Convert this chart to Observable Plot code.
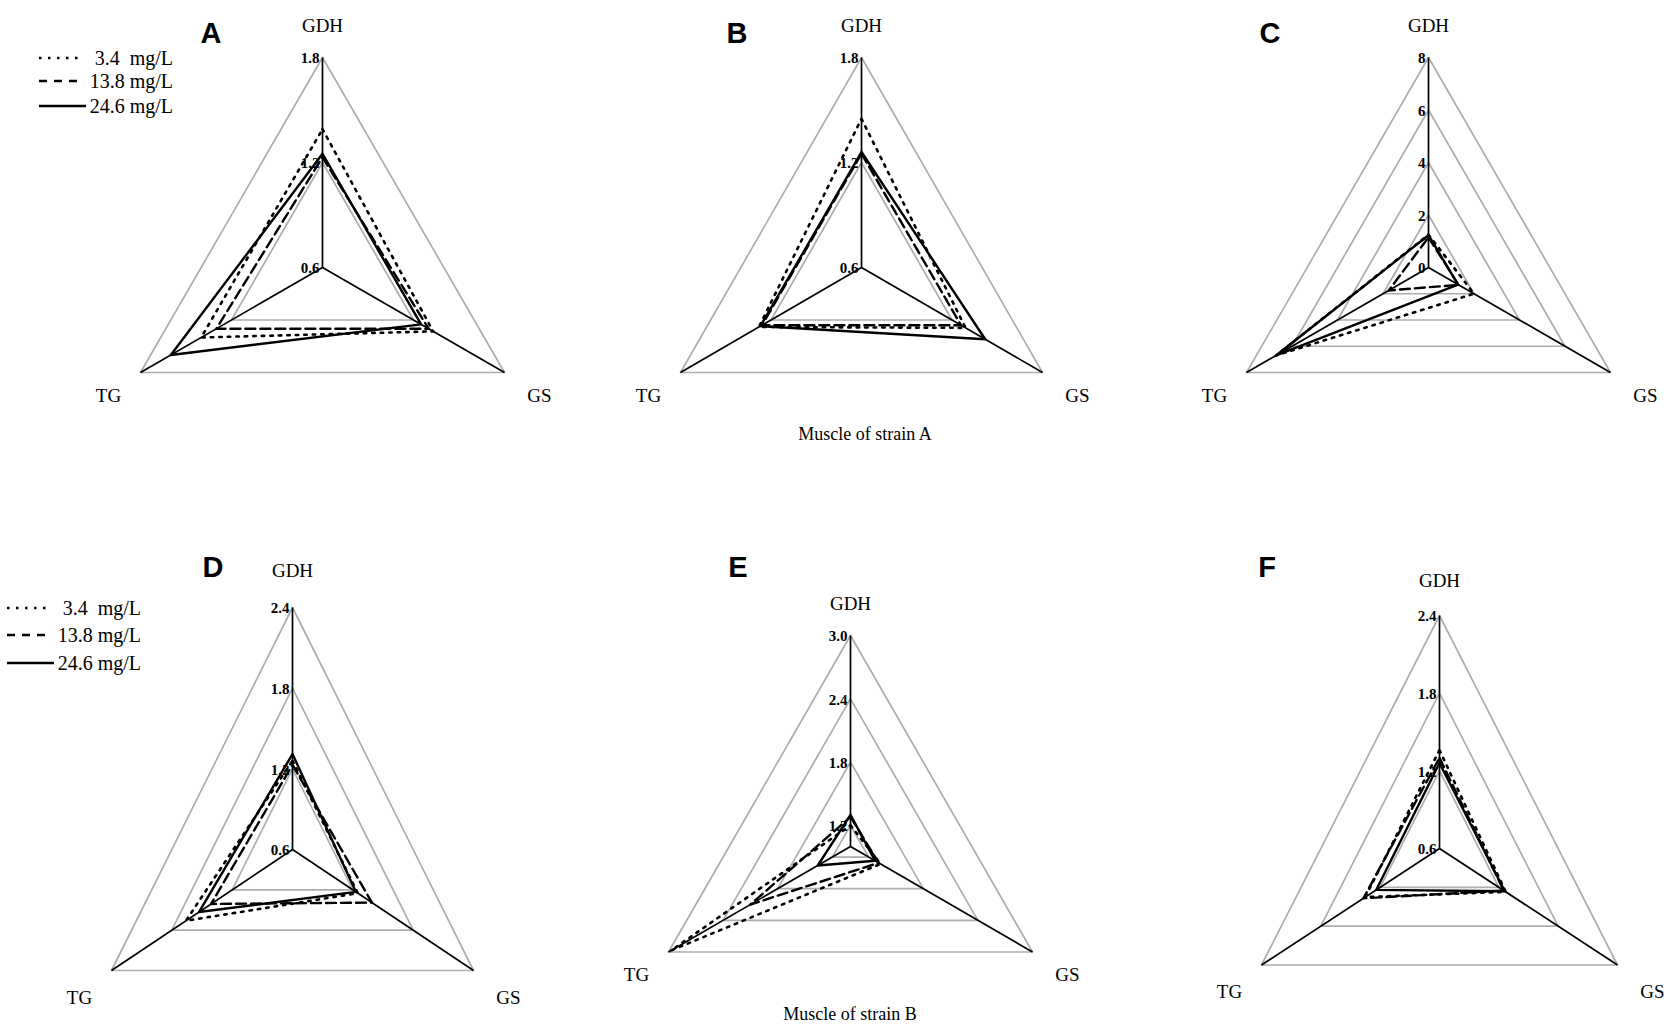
<!DOCTYPE html>
<html><head><meta charset="utf-8">
<script src="https://cdn.jsdelivr.net/npm/d3@7"></script>
<script src="https://cdn.jsdelivr.net/npm/@observablehq/plot@0.6"></script>
<style>
html,body{margin:0;padding:0;background:#fff;}
#page{position:relative;width:1671px;height:1030px;overflow:hidden;background:#fff;}
.panel{position:absolute;}
#overlay{position:absolute;left:0;top:0;pointer-events:none;}
</style></head>
<body><div id="page"></div>
<script>
// ---------------- data ----------------
const axisNames = ["GDH", "GS", "TG"];               // clockwise from top
const seriesNames = ["3.4  mg/L", "13.8 mg/L", "24.6 mg/L"];
const panelLetters = ["A", "B", "C", "D", "E", "F"];
const captions = ["Muscle of strain A", "Muscle of strain B"];
// values per series [GDH, GS, TG]; series order 3.4, 13.8, 24.6 mg/L
const panelA = [[1.39, 1.33, 1.40], [1.23, 1.30, 1.30], [1.25, 1.25, 1.60]];
const panelB = [[1.45, 1.29, 1.28], [1.25, 1.26, 1.26], [1.26, 1.42, 1.27]];
const panelC = [[1.25, 2.00, 6.70], [1.15, 1.32, 1.75], [1.23, 1.30, 6.70]];
const panelD = [[1.26, 1.25, 1.66], [1.23, 1.39, 1.41], [1.31, 1.23, 1.53]];
const panelE = [[1.20, 1.33, 2.97], [1.28, 1.31, 2.10], [1.30, 1.27, 1.36]];
const panelF = [[1.36, 1.27, 1.35], [1.30, 1.25, 1.37], [1.26, 1.26, 1.24]];
const axisMin = [0.6, 0.6, 0, 0.6, 1.0, 0.6];
const axisMax = [1.8, 1.8, 8, 2.4, 3.0, 2.4];
const tickValues = [[0.6, 1.2, 1.8], [0.6, 1.2, 1.8], [0, 2, 4, 6, 8], [0.6, 1.2, 1.8, 2.4], [1.2, 1.8, 2.4, 3.0], [0.6, 1.2, 1.8, 2.4]];
const tickLabels = [["0.6", "1.2", "1.8"], ["0.6", "1.2", "1.8"], ["0", "2", "4", "6", "8"], ["0.6", "1.2", "1.8", "2.4"], ["1.2", "1.8", "2.4", "3.0"], ["0.6", "1.2", "1.8", "2.4"]];
const panels = [panelA, panelB, panelC, panelD, panelE, panelF];

// ---------------- layout / style ----------------
const layout = [
  {cx: 322, cy: 267, hx: 182, ry: 210, left: 0, top: 0, w: 560, h: 460, gap: 32, drop: 23},
  {cx: 861, cy: 267, hx: 181, ry: 210, left: 560, top: 0, w: 550, h: 460, gap: 32, drop: 23},
  {cx: 1428, cy: 267, hx: 182, ry: 210, left: 1110, top: 0, w: 561, h: 460, gap: 32, drop: 23},
  {cx: 292, cy: 849, hx: 181, ry: 242, left: 0, top: 500, w: 560, h: 530, gap: 37, drop: 27},
  {cx: 850, cy: 846, hx: 182, ry: 211, left: 560, top: 500, w: 550, h: 530, gap: 32, drop: 23},
  {cx: 1439, cy: 848, hx: 178, ry: 233, left: 1110, top: 500, w: 561, h: 530, gap: 35, drop: 27}
];
const letterPos = [[211, 33], [737, 33], [1270, 33], [213, 567], [738, 567], [1267, 567]];
const captionPos = [[865, 434], [850, 1014]];
const legendPos = [{x0: 39, x1: [80, 82, 86], tx: 173, ys: [58, 81, 106]}, {x0: 7, x1: [46, 50, 54], tx: 141, ys: [608, 635, 663]}];
const seriesDash = ["2.5,6", "10,5", null];
const legendDash = ["2.5,6.5", "8,7", null];
const seriesWidth = [2.6, 2.4, 2.4];
const serif = '"Liberation Serif", "Times New Roman", serif';

const page = document.getElementById("page");

function drawPanel(i) {
  const g = layout[i];
  const r = d3.scaleLinear().domain([axisMin[i], axisMax[i]]).range([0, 1]);
  const ang = k => k * 2 * Math.PI / 3;
  const px = d => r(d.value) * Math.sin(ang(d.k));
  const py = d => r(d.value) * Math.cos(ang(d.k));
  const rows = [];
  panels[i].forEach((s, si) => s.forEach((v, k) => rows.push({series: seriesNames[si], axis: axisNames[k], value: v, k})));
  const gridRows = tickValues[i].filter(t => t > axisMin[i]).flatMap(t => axisNames.map((a, k) => ({level: t, value: t, k})));
  const spokeRows = axisNames.map((a, k) => ({axis: a, value: axisMax[i], k}));
  const tickRows = tickValues[i].map((t, j) => ({value: t, label: tickLabels[i][j]}));
  const Rx = g.hx / Math.cos(Math.PI / 6);
  const marks = [
    Plot.line(gridRows, {x: px, y: py, z: "level", curve: "linear-closed", stroke: "#adadad", strokeWidth: 1.7}),
    Plot.link(spokeRows, {x1: () => 0, y1: () => 0, x2: px, y2: py, stroke: "#000", strokeWidth: 1.7}),
    ...seriesNames.map((name, si) => Plot.line(rows.filter(d => d.series === name), {
      x: px, y: py, curve: "linear-closed", stroke: "#000", strokeWidth: seriesWidth[si],
      strokeDasharray: seriesDash[si] || undefined
    })),
    Plot.text(tickRows, {x: () => 0, y: d => r(d.value), text: "label", textAnchor: "end", dx: -3, dy: 1, fontSize: 15, fontWeight: "bold"}),
    Plot.text(spokeRows.filter(d => d.k === 0), {x: px, y: py, text: "axis", dy: -g.gap, fontSize: 19}),
    Plot.text(spokeRows.filter(d => d.k === 1), {x: px, y: py, text: "axis", dx: 35, dy: g.drop, fontSize: 19}),
    Plot.text(spokeRows.filter(d => d.k === 2), {x: px, y: py, text: "axis", dx: -32, dy: g.drop, fontSize: 19})
  ];
  const svg = Plot.plot({
    width: g.w, height: g.h, margin: 0,
    x: {domain: [(g.left - g.cx) / Rx, (g.left + g.w - g.cx) / Rx], axis: null},
    y: {domain: [(g.cy - g.top - g.h) / g.ry, (g.cy - g.top) / g.ry], axis: null},
    style: {fontFamily: serif, background: "transparent", overflow: "visible", color: "#000"},
    marks
  });
  svg.classList.add("panel");
  svg.style.left = g.left + "px";
  svg.style.top = g.top + "px";
  page.appendChild(svg);
}
for (let i = 0; i < 6; i++) drawPanel(i);

// overlay: panel letters, captions, legends
const ov = d3.select(page).append("svg").attr("id", "overlay").attr("width", 1671).attr("height", 1030);
ov.selectAll("text.letter").data(panelLetters).join("text")
  .attr("x", (d, i) => letterPos[i][0]).attr("y", (d, i) => letterPos[i][1])
  .attr("text-anchor", "middle").attr("dominant-baseline", "central")
  .style("font-family", '"Liberation Sans", Arial, sans-serif').style("font-weight", "bold").style("font-size", "29px")
  .text(d => d);
ov.selectAll("text.cap").data(captions).join("text")
  .attr("x", (d, i) => captionPos[i][0]).attr("y", (d, i) => captionPos[i][1])
  .attr("text-anchor", "middle").attr("dominant-baseline", "central")
  .style("font-family", serif).style("font-size", "18px").text(d => d);
legendPos.forEach(L => {
  seriesNames.forEach((name, si) => {
    const ln = ov.append("line").attr("x1", L.x0).attr("x2", L.x1[si]).attr("y1", L.ys[si]).attr("y2", L.ys[si])
      .attr("stroke", "#000").attr("stroke-width", si === 0 ? 2.6 : 2.4);
    if (legendDash[si]) ln.attr("stroke-dasharray", legendDash[si]);
    ov.append("text").attr("x", L.tx).attr("y", L.ys[si]).attr("text-anchor", "end").attr("dominant-baseline", "central")
      .style("font-family", serif).style("font-size", "20px").style("white-space", "pre").attr("xml:space", "preserve").text(name);
  });
});
</script>
</body></html>
